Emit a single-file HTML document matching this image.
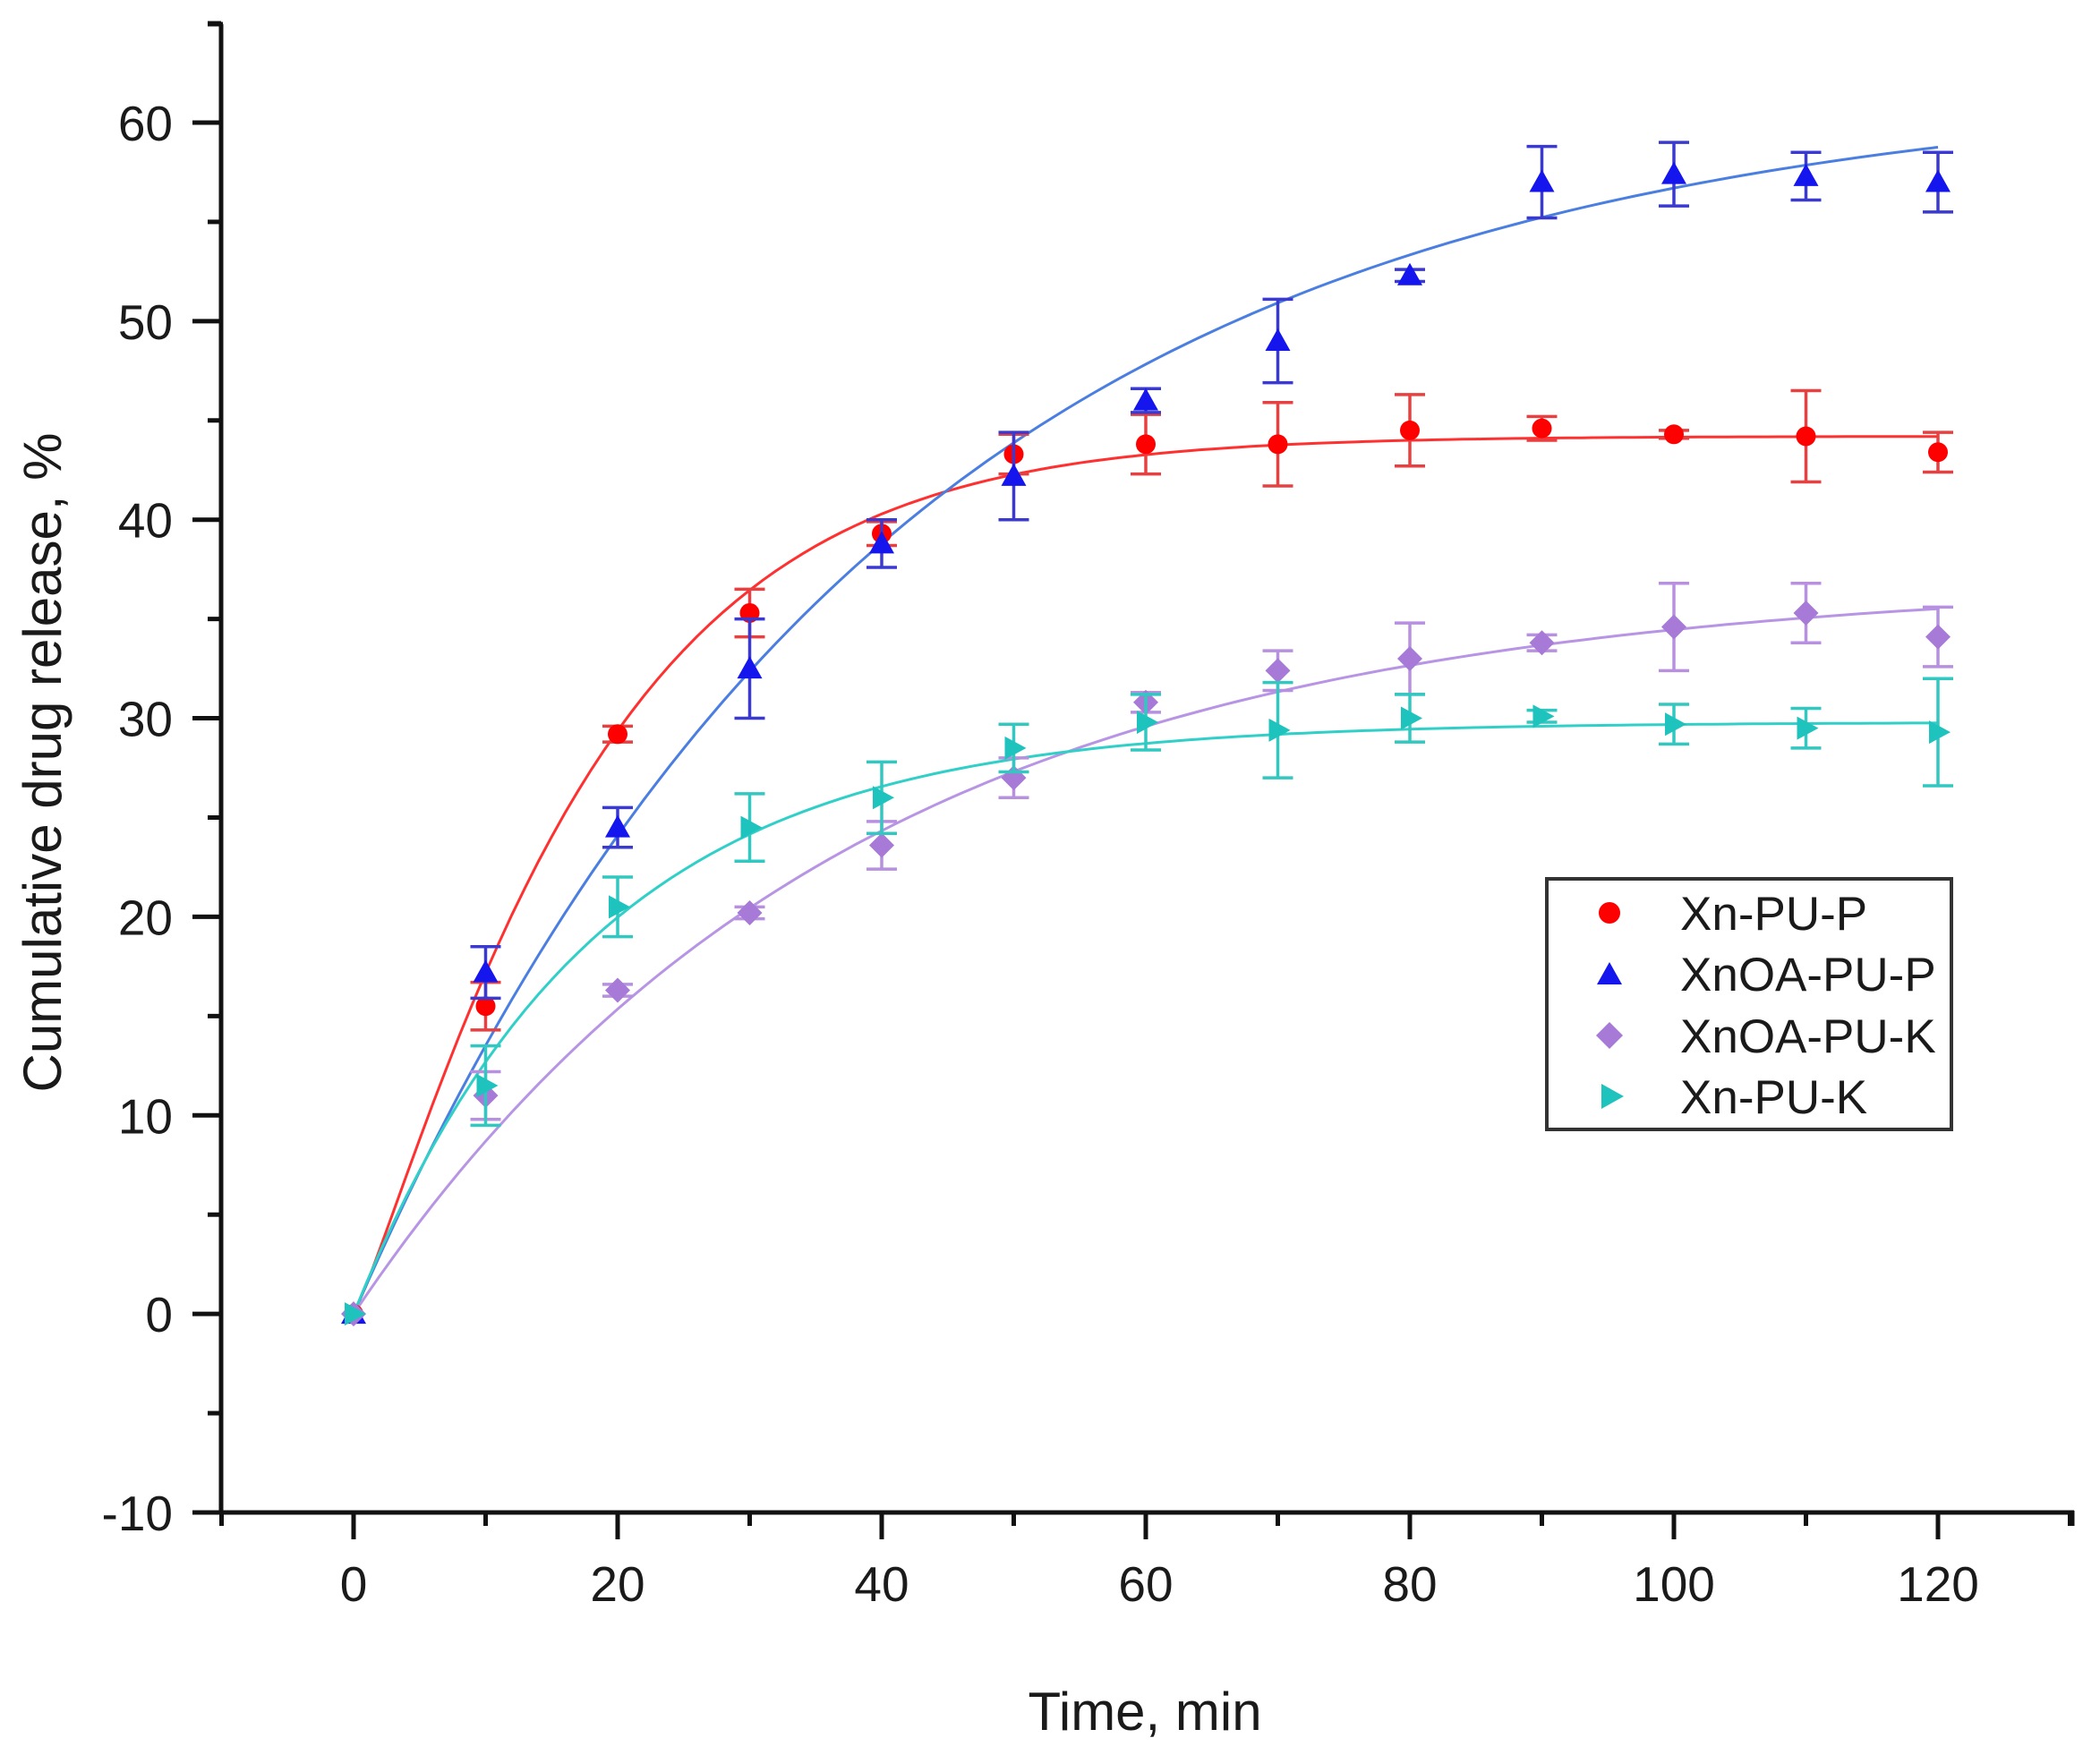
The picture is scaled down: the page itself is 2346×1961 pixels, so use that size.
<!DOCTYPE html>
<html><head><meta charset="utf-8"><style>
html,body{margin:0;padding:0;background:#fff;}
svg{display:block;font-family:"Liberation Sans",Arial,sans-serif;}
</style></head><body>
<svg id="s" width="2346" height="1961" viewBox="0 0 2346 1961" xmlns="http://www.w3.org/2000/svg">
<rect width="2346" height="1961" fill="#fff"/>
<g id="axes" stroke="#111" stroke-width="5" fill="none">
<line x1="247" y1="27" x2="247" y2="1692"/>
<line x1="232" y1="27" x2="249" y2="27"/>
<line x1="245" y1="1690" x2="2317" y2="1690"/>
<line x1="2315" y1="1688" x2="2315" y2="1705"/>
</g>
<g id="ticks" stroke="#111" stroke-width="5"></g>
<g id="labels" font-size="55" fill="#1a1a1a"></g>
<text x="1279" y="1933" font-size="60" text-anchor="middle" fill="#1a1a1a">Time, min</text>
<text transform="translate(68,852) rotate(-90)" font-size="60" text-anchor="middle" fill="#1a1a1a">Cumulative drug release, %</text>
<g id="data"></g>
<rect x="1728" y="982" width="452" height="280" fill="#fff" stroke="#333" stroke-width="4"/>
<circle cx="1798" cy="1020" r="12" fill="#ff0000"/>
<polygon points="1798,1075 1812,1100 1784,1100" fill="#1515ee"/>
<polygon points="1798,1142 1813,1157 1798,1172 1783,1157" fill="#a77ad8"/>
<polygon points="1789,1211 1814,1225 1789,1239" fill="#1fc3bd"/>
<g font-size="53" fill="#1a1a1a">
<text x="1877" y="1039">Xn-PU-P</text>
<text x="1877" y="1107">XnOA-PU-P</text>
<text x="1877" y="1176">XnOA-PU-K</text>
<text x="1877" y="1244">Xn-PU-K</text>
</g>
</svg>
<script>
const NS="http://www.w3.org/2000/svg";
const X=t=>395+t*14.75, Y=v=>1690-(v+10)*22.186;
function el(n,a,p){const e=document.createElementNS(NS,n);for(const k in a)e.setAttribute(k,a[k]);p.appendChild(e);return e;}
const tk=document.getElementById('ticks'), lb=document.getElementById('labels');
for(let v=-10;v<=65;v+=5){const y=Y(v);const maj=v%10===0;el('line',{x1:maj?215:232,y1:y,x2:247,y2:y},tk);
 if(maj){const t=el('text',{x:193,y:y+20,'text-anchor':'end'},lb);t.textContent=v;}}
for(let t=-10;t<=130;t+=10){const x=X(t);const maj=t%20===0;el('line',{x1:x,y1:1690,x2:x,y2:maj?1720:1705},tk);
 if(maj&&t>=0&&t<=120){const e=el('text',{x:x,y:1789,'text-anchor':'middle'},lb);e.textContent=t;}}
const ts=[0,10,20,30,40,50,60,70,80,90,100,110,120];
const S=[
{c:'#ff0000',ec:'#e84040',lc:'#ff3030',m:'o',A:44.2,k:0.054,b:1.15,
 v:[0,15.5,29.2,35.3,39.3,43.3,43.8,43.8,44.5,44.6,44.3,44.2,43.4],e:[0,1.2,0.4,1.2,0.6,1,1.5,2.1,1.8,0.6,0.2,2.3,1]},
{c:'#1515ee',ec:'#3a3ad0',lc:'#4a7ee0',m:'t',A:62,k:0.0246,b:1,
 v:[0,17.2,24.5,32.5,38.8,42.2,46,49,52.3,57,57.4,57.3,57],e:[0,1.3,1,2.5,1.2,2.2,0.6,2.1,0.3,1.8,1.6,1.2,1.5]},
{c:'#a77ad8',ec:'#b890e0',lc:'#b894e4',m:'d',A:37,k:0.0268,b:1,
 v:[0,11,16.3,20.2,23.6,27,30.8,32.4,33,33.8,34.6,35.3,34.1],e:[0,1.2,0.3,0.3,1.2,1,0.5,1,1.8,0.4,2.2,1.5,1.5]},
{c:'#1fc3bd',ec:'#30c8c0',lc:'#30cfc8',m:'r',A:29.8,k:0.0555,b:1,
 v:[0,11.5,20.5,24.5,26,28.5,29.8,29.4,30,30.1,29.7,29.5,29.3],e:[0,2,1.5,1.7,1.8,1.2,1.4,2.4,1.2,0.3,1,1,2.7]}];
const d=document.getElementById('data');
S.forEach(s=>{let p='';for(let t=0;t<=120;t+=1){p+=(t?'L':'M')+X(t).toFixed(1)+','+Y(s.A*(1-Math.exp(-Math.pow(s.k*t,s.b)))).toFixed(1);}
 el('path',{d:p,fill:'none',stroke:s.lc,'stroke-width':3},d);});
S.forEach(s=>{ts.forEach((t,i)=>{const x=X(t),y=Y(s.v[i]),e=s.e[i];
 if(e>0){const y1=Y(s.v[i]+e),y2=Y(s.v[i]-e);
  el('line',{x1:x,y1:y1,x2:x,y2:y2,stroke:s.ec,'stroke-width':3.5},d);
  el('line',{x1:x-17,y1:y1,x2:x+17,y2:y1,stroke:s.ec,'stroke-width':3.5},d);
  el('line',{x1:x-17,y1:y2,x2:x+17,y2:y2,stroke:s.ec,'stroke-width':3.5},d);}
 if(s.m==='o')el('circle',{cx:x,cy:y,r:11,fill:s.c},d);
 else if(s.m==='t')el('polygon',{points:`${x},${y-14} ${x+14},${y+11} ${x-14},${y+11}`,fill:s.c},d);
 else if(s.m==='d')el('polygon',{points:`${x},${y-14} ${x+14},${y} ${x},${y+14} ${x-14},${y}`,fill:s.c},d);
 else el('polygon',{points:`${x-10},${y-13} ${x+14},${y} ${x-10},${y+13}`,fill:s.c},d);});});
</script>
</body></html>
